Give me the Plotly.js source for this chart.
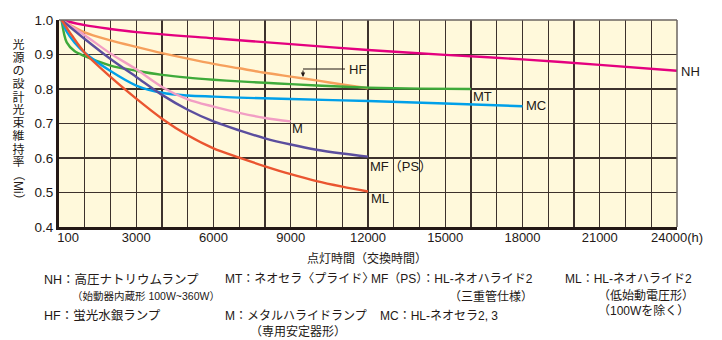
<!DOCTYPE html>
<html>
<head>
<meta charset="utf-8">
<script src="https://cdn.plot.ly/plotly-3.0.1.min.js"></script>
<style>
  html, body { margin: 0; padding: 0; background: #ffffff; }
  #chart { width: 722px; height: 340px; }
</style>
</head>
<body>
<div id="chart"></div>
<script>
// ---- data (lighting hours vs. lumen maintenance factor) ----
const hoursNH = [100, 1000, 2000, 3000, 6000, 9000, 12000, 15000, 18000, 21000, 24000];
const valuesNH = [1.0, 0.985, 0.974, 0.965, 0.947, 0.930, 0.913, 0.899, 0.886, 0.870, 0.853];

const hoursHF = [100, 1000, 2000, 3000, 4000, 5000, 6000, 7000, 8000, 9000, 10000, 11000, 12000];
const valuesHF = [1.0, 0.964, 0.941, 0.922, 0.904, 0.888, 0.873, 0.860, 0.847, 0.836, 0.825, 0.813, 0.802];

const hoursMT = [100, 300, 600, 1000, 2000, 3000, 4000, 5000, 6000, 7000, 8000, 9000, 10000, 12000, 14000, 16000];
const valuesMT = [1.0, 0.935, 0.910, 0.895, 0.868, 0.853, 0.841, 0.833, 0.827, 0.822, 0.818, 0.814, 0.810, 0.804, 0.801, 0.800];

const hoursMC = [100, 300, 600, 1000, 2000, 3000, 4000, 5000, 6000, 7000, 9000, 12000, 15000, 18000];
const valuesMC = [1.0, 0.966, 0.935, 0.905, 0.852, 0.810, 0.789, 0.781, 0.778, 0.775, 0.771, 0.765, 0.758, 0.750];

const hoursM = [100, 1000, 2000, 3000, 4000, 5000, 6000, 7000, 8000, 9000];
const valuesM = [1.0, 0.956, 0.903, 0.857, 0.806, 0.770, 0.749, 0.731, 0.716, 0.706];

const hoursMF = [100, 1000, 2000, 3000, 4000, 5000, 6000, 7000, 8000, 9000, 10000, 11000, 12000];
const valuesMF = [1.0, 0.945, 0.887, 0.835, 0.783, 0.740, 0.706, 0.680, 0.657, 0.639, 0.624, 0.613, 0.604];

const hoursML = [100, 500, 1000, 2000, 3000, 4000, 5000, 6000, 7000, 8000, 9000, 10000, 11000, 12000];
const valuesML = [1.0, 0.955, 0.905, 0.835, 0.772, 0.714, 0.666, 0.628, 0.601, 0.576, 0.553, 0.533, 0.517, 0.503];

const xTickVals = [350, 3000, 6000, 9000, 12000, 15000, 18000, 21000, 24000];
const xTickText = ['100', '3000', '6000', '9000', '12000', '15000', '18000', '21000', '24000(h)'];
const yTickVals = [0.4, 0.5, 0.6, 0.7, 0.8, 0.9, 1.0];
const yTickText = ['0.4', '0.5', '0.6', '0.7', '0.8', '0.9', '1.0'];

const yTitleChars = ['光', '源', 'の', '設', '計', '光', '束', '維', '持', '率'];
const yTitleTail = '（Mi）';
const xTitle = '点灯時間（交換時間）';

// ---- styling ----
const TXT = '#231815';
const FONT = 'Liberation Sans, Arial, "Noto Sans CJK JP", sans-serif';
const W = 722, H = 340;
const M = { l: 59, r: 45, t: 20, b: 113 };
const PW = W - M.l - M.r, PH = H - M.t - M.b;
const px = x => (x - M.l) / PW;          // pixel -> paper x
const py = y => (H - M.b - y) / PH;      // pixel -> paper y

function series(x, y, color) {
  return { x: x, y: y, type: 'scatter', mode: 'lines', hoverinfo: 'skip',
           line: { color: color, width: 2.4, shape: 'spline', smoothing: 0.9 } };
}

const traces = [
  series(hoursNH, valuesNH, '#E4007F'),
  series(hoursHF, valuesHF, '#F6A05C'),
  series(hoursMT, valuesMT, '#3FAA3A'),
  series(hoursMC, valuesMC, '#00A0E9'),
  series(hoursM,  valuesM,  '#F29EC4'),
  series(hoursMF, valuesMF, '#5B4E9E'),
  series(hoursML, valuesML, '#EA5530')
];

const annotations = [];
function txt(text, x, y, size, anchor, extra) {
  annotations.push(Object.assign({ text: text, xref: 'paper', yref: 'paper', x: px(x), y: py(y),
    xanchor: anchor || 'left', yanchor: 'middle', showarrow: false,
    font: { family: FONT, size: size || 12, color: TXT } }, extra || {}));
}

// y axis title, vertical writing (upright characters)
yTitleChars.forEach((c, i) => txt(c, 18, 45 + i * 13, 12, 'center', { height: 12, width: 13 }));
annotations.push({ text: yTitleTail, xref: 'paper', yref: 'paper', x: px(18), y: py(187),
  xanchor: 'center', yanchor: 'middle', textangle: 90, showarrow: false,
  font: { family: FONT, size: 12, color: TXT } });

// x axis title
txt(xTitle, 367, 259, 12, 'center');

// curve labels
txt('NH', 679, 71.5, 13);
txt('MT', 471, 96.5, 13);
txt('MC', 524, 105.5, 13);
txt('M', 290, 128.5, 13);
txt('MF（PS）', 368, 166, 13);
txt('ML', 369, 198, 13);
txt('HF', 347, 69, 13);

// HF leader arrow
annotations.push({ text: '', xref: 'paper', yref: 'paper', axref: 'pixel', ayref: 'pixel',
  x: px(303), y: py(77), ax: 0, ay: -8, showarrow: true, arrowhead: 2, arrowsize: 0.8,
  arrowwidth: 1.1, arrowcolor: TXT });

// explanatory notes
txt('NH：高圧ナトリウムランプ', 42, 279, 12.5);
txt('（始動器内蔵形 100W~360W）', 70, 296, 10.5);
txt('HF：蛍光水銀ランプ', 42, 316, 12.5);
txt('MT：ネオセラ〈プライド〉', 223, 279, 12);
txt('M：メタルハライドランプ', 223, 316, 12);
txt('（専用安定器形）', 248, 332, 12);
txt('MF（PS）：HL-ネオハライド2', 369, 279, 12);
txt('（三重管仕様）', 447, 296, 12);
txt('MC：HL-ネオセラ2, 3', 378, 316, 12);
txt('ML：HL-ネオハライド2', 563, 279, 12);
txt('（低始動電圧形）', 596, 296, 12);
txt('（100Wを除く）', 596, 311, 12);

const shapes = [
  // HF leader horizontal line
  { type: 'line', xref: 'paper', yref: 'paper', x0: px(303), x1: px(345), y0: py(69), y1: py(69),
    line: { color: TXT, width: 1.1 } },
  // top and right frame
  { type: 'line', xref: 'paper', yref: 'paper', x0: 0, x1: 1, y0: 1, y1: 1,
    line: { color: '#6b6560', width: 1.5 } },
  { type: 'line', xref: 'paper', yref: 'paper', x0: 1, x1: 1, y0: 0, y1: 1,
    line: { color: '#6b6560', width: 1.5 } }
];

const layout = {
  width: W, height: H, autosize: false,
  margin: M,
  paper_bgcolor: '#ffffff',
  plot_bgcolor: '#FFF9DB',
  showlegend: false,
  font: { family: FONT, color: TXT, size: 13 },
  xaxis: {
    range: [0, 24000], fixedrange: true,
    tickmode: 'array', tickvals: xTickVals, ticktext: xTickText,
    ticks: '', showgrid: false, zeroline: false, ticklabelstandoff: -4,
    minor: { tick0: 0, dtick: 1000, showgrid: true, gridcolor: '#3d322c', gridwidth: 1.3, ticks: '' },
    showline: true, linecolor: '#231815', linewidth: 3,
    tickfont: { family: FONT, size: 13, color: TXT }
  },
  yaxis: {
    range: [0.4, 1.0], fixedrange: true,
    tickmode: 'array', tickvals: yTickVals, ticktext: yTickText,
    ticks: '', showgrid: true, gridcolor: '#3d322c', gridwidth: 1.3, zeroline: false,
    showline: true, linecolor: '#231815', linewidth: 3,
    tickfont: { family: FONT, size: 13.5, color: TXT }
  },
  annotations: annotations,
  shapes: shapes
};

Plotly.newPlot('chart', traces, layout, { staticPlot: true, displayModeBar: false });
</script>
</body>
</html>
